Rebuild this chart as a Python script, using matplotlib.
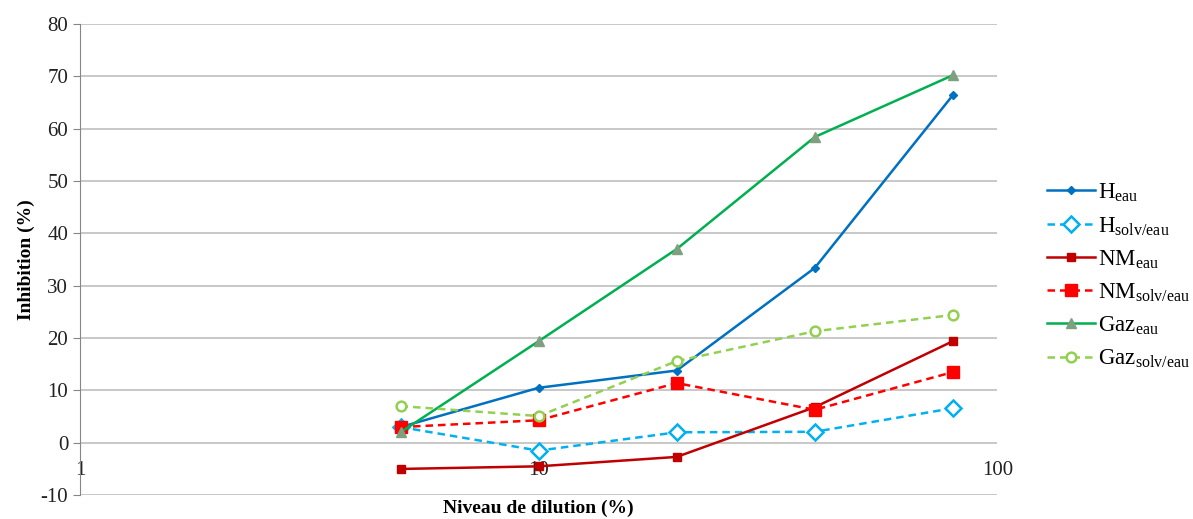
import matplotlib.pyplot as plt

plt.rcParams['font.family'] = ['Liberation Serif', 'DejaVu Serif']
plt.rcParams['mathtext.fontset'] = 'custom'
plt.rcParams['mathtext.rm'] = 'Liberation Serif'
plt.rcParams['axes.unicode_minus'] = False

dilution = [5, 10, 20, 40, 80]
h_eau = [3.0, 10.5, 13.8, 33.4, 66.4]
h_solv = [3.0, -1.5, 2.0, 2.1, 6.6]
nm_eau = [-5.0, -4.5, -2.7, 6.8, 19.4]
nm_solv = [3.0, 4.3, 11.4, 6.3, 13.5]
gaz_eau = [2.0, 19.4, 37.0, 58.4, 70.2]
gaz_solv = [7.0, 5.1, 15.6, 21.3, 24.4]

yticks = list(range(-10, 90, 10))
xticks = [1, 10, 100]

fig = plt.figure(figsize=(11.93, 5.19), dpi=100)
ax = fig.add_axes([0.067, 0.046, 0.769, 0.908])

ax.plot(dilution, h_eau, color='#0070C0', lw=1.8, marker='D', ms=4,
        label=r'H$_{\mathrm{eau}}$')
ax.plot(dilution, h_solv, color='#00B0F0', lw=1.8, ls=(0, (3, 2)), marker='D', ms=8,
        mfc='white', mec='#00B0F0', mew=1.8, label=r'H$_{\mathrm{solv/eau}}$')
ax.plot(dilution, nm_eau, color='#C00000', lw=1.8, marker='s', ms=6,
        label=r'NM$_{\mathrm{eau}}$')
ax.plot(dilution, nm_solv, color='#FF0000', lw=1.8, ls=(0, (3, 2)), marker='s', ms=8,
        label=r'NM$_{\mathrm{solv/eau}}$')
ax.plot(dilution, gaz_eau, color='#00B050', lw=1.8, marker='^', ms=7,
        mfc='#7FA07F', mec='#7FA07F', label=r'Gaz$_{\mathrm{eau}}$')
ax.plot(dilution, gaz_solv, color='#92D050', lw=1.8, ls=(0, (3, 2)), marker='o', ms=7,
        mfc='white', mec='#92D050', mew=1.8, label=r'Gaz$_{\mathrm{solv/eau}}$')

ax.set_xscale('log')
ax.set_xlim(1, 100)
ax.set_ylim(-10, 80)
ax.set_yticks(yticks)
ax.set_xticks(xticks)
ax.set_xticklabels([str(t) for t in xticks])
ax.minorticks_off()

ax.grid(axis='y', color='#BFBFBF', lw=1.2)
ax.set_axisbelow(True)
for s in ['top', 'right']:
    ax.spines[s].set_visible(False)
ax.spines['bottom'].set_position(('data', 0))
ax.spines['bottom'].set_visible(False)
ax.spines['left'].set_color('#868686')
ax.tick_params(axis='x', length=0, labelsize=15, pad=13, colors='#222222')
ax.tick_params(axis='y', length=5, color='#868686', labelsize=15, colors='#222222')

ax.set_ylabel('Inhibition (%)', fontsize=14, fontweight='bold', labelpad=4)
ax.set_xlabel('Niveau de dilution (%)', fontsize=14, fontweight='bold')
ax.xaxis.set_label_coords(0.5, -0.01)

ax.legend(loc='center left', bbox_to_anchor=(1.032, 0.465), frameon=False,
          fontsize=16.5, handlelength=2.1, labelspacing=0.45, handletextpad=0.1)

fig.savefig('out.png', dpi=100)
